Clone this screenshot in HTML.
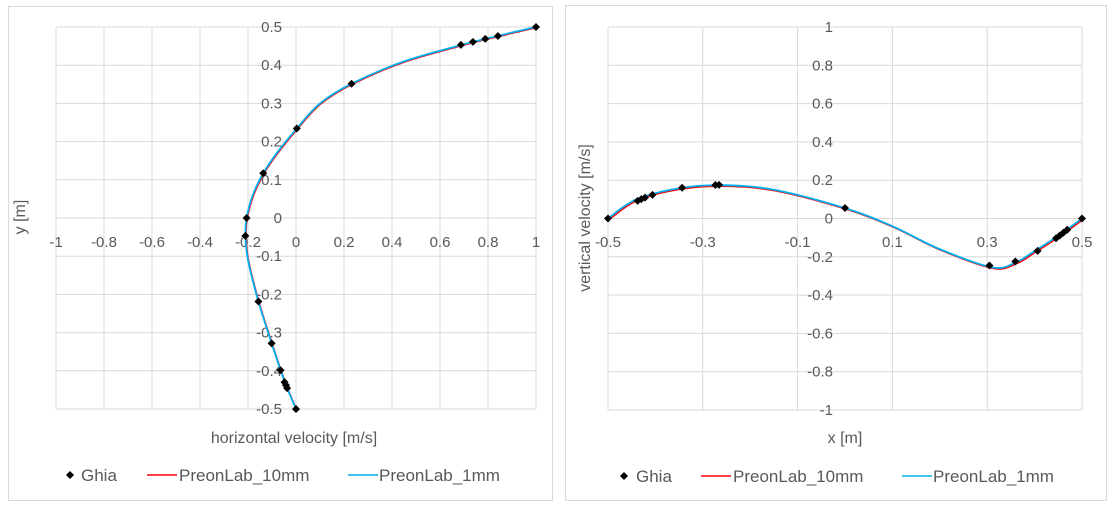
<!DOCTYPE html>
<html><head><meta charset="utf-8"><style>
body{margin:0;background:#fff;width:1114px;height:508px;overflow:hidden}
svg text{font-family:"Liberation Sans",sans-serif;fill:#595959}
</style></head><body>
<svg id="s" width="1114" height="508" xmlns="http://www.w3.org/2000/svg">
<rect x="8.5" y="6.5" width="544" height="494" fill="#fff" stroke="#d9d9d9"/>
<rect x="565.5" y="5.5" width="541" height="495" fill="#fff" stroke="#d9d9d9"/>
<g id="g"></g>
<text x="20" y="217" font-size="16" text-anchor="middle" transform="rotate(-90 20 217)" dy="5">y [m]</text>
<text x="294" y="443" font-size="16" text-anchor="middle">horizontal velocity [m/s]</text>
<text x="585" y="218" font-size="16" text-anchor="middle" transform="rotate(-90 585 218)" dy="5">vertical velocity [m/s]</text>
<text x="845" y="443" font-size="16" text-anchor="middle">x [m]</text>
<path d="M70 471 l4 4 -4 4 -4 -4z" fill="#000"/>
<text x="81" y="481" font-size="17">Ghia</text>
<line x1="147" y1="475" x2="177" y2="475" stroke="#ff0000" stroke-width="1.5"/>
<text x="179" y="481" font-size="17">PreonLab_10mm</text>
<line x1="348" y1="475" x2="378" y2="475" stroke="#00b0f0" stroke-width="1.5"/>
<text x="379" y="481" font-size="17">PreonLab_1mm</text>
<path d="M624 472 l4 4 -4 4 -4 -4z" fill="#000"/>
<text x="636" y="482" font-size="17">Ghia</text>
<line x1="701" y1="476" x2="731" y2="476" stroke="#ff0000" stroke-width="1.5"/>
<text x="733" y="482" font-size="17">PreonLab_10mm</text>
<line x1="902" y1="476" x2="932" y2="476" stroke="#00b0f0" stroke-width="1.5"/>
<text x="933" y="482" font-size="17">PreonLab_1mm</text>
</svg>
<script>
const NS="http://www.w3.org/2000/svg",g=document.getElementById('g');
function el(t,a,txt){const e=document.createElementNS(NS,t);for(const k in a)e.setAttribute(k,a[k]);if(txt!==undefined)e.textContent=txt;g.appendChild(e);return e;}
function fmt(v){v=Math.round(v*10)/10;return v===0?"0":String(v);}
const LX=u=>296+u*240, LY=y=>218-y*382;
for(let i=0;i<=10;i++){const x=LX(-1+i*0.2);el('line',{x1:x,y1:LY(.5),x2:x,y2:LY(-.5),stroke:'#d9d9d9'});}
for(let i=0;i<=10;i++){const y=LY(-.5+i*0.1);el('line',{x1:LX(-1),y1:y,x2:LX(1),y2:y,stroke:'#d9d9d9'});}
for(let i=0;i<=10;i++){const v=-1+i*0.2;el('text',{x:LX(v),y:247,'font-size':15,'text-anchor':'middle'},fmt(v));}
for(let i=0;i<=10;i++){const v=-.5+i*0.1;el('text',{x:282,y:LY(v)+5,'font-size':15,'text-anchor':'end'},fmt(v));}
const RX=x=>845+x*474, RY=v=>218.5-v*191.5;
for(let i=0;i<=5;i++){const x=RX(-.5+i*0.2);el('line',{x1:x,y1:RY(1),x2:x,y2:RY(-1),stroke:'#d9d9d9'});}
for(let i=0;i<=10;i++){const y=RY(-1+i*0.2);el('line',{x1:RX(-.5),y1:y,x2:RX(.5),y2:y,stroke:'#d9d9d9'});}
for(let i=0;i<=5;i++){const v=-.5+i*0.2;el('text',{x:RX(v),y:247,'font-size':15,'text-anchor':'middle'},fmt(v));}
for(let i=0;i<=10;i++){const v=-1+i*0.2;el('text',{x:833,y:RY(v)+5,'font-size':15,'text-anchor':'end'},fmt(v));}
const gu=[[1,1],[.9766,.84123],[.9688,.78871],[.9609,.73722],[.9531,.68717],[.8516,.23151],[.7344,.00332],[.6172,-.13641],[.5,-.20581],[.4531,-.2109],[.2813,-.15662],[.1719,-.1015],[.1016,-.06434],[.0703,-.04775],[.0625,-.04192],[.0547,-.03717],[0,0]];
const gv=[[1,0],[.9688,-.05906],[.9609,-.07391],[.9531,-.08864],[.9453,-.10313],[.9063,-.16914],[.8594,-.22445],[.8047,-.24533],[.5,.05454],[.2344,.17527],[.2266,.17507],[.1563,.16077],[.0938,.12317],[.0781,.1089],[.0703,.10091],[.0625,.09233],[0,0]];
function cr(pts){let d="M"+pts[0][0]+" "+pts[0][1];for(let i=0;i<pts.length-1;i++){const p0=pts[Math.max(0,i-1)],p1=pts[i],p2=pts[i+1],p3=pts[Math.min(pts.length-1,i+2)];
d+=` C${p1[0]+(p2[0]-p0[0])/6} ${p1[1]+(p2[1]-p0[1])/6} ${p2[0]-(p3[0]-p1[0])/6} ${p2[1]-(p3[1]-p1[1])/6} ${p2[0]} ${p2[1]}`;}return d;}
const lk=[[1,.5],[.84,.4766],[.69,.4531],[.45,.41],[.23151,.3516],[.1,.3],[.00332,.2344],[-.08,.17],[-.13641,.1172],[-.18,.06],[-.20581,0],[-.2109,-.0469],[-.2,-.11],[-.15662,-.2187],[-.1015,-.3281],[-.06434,-.3984],[-.03717,-.4453],[0,-.5]];
const lp=lk.map(p=>[LX(p[0]),LY(p[1])]);
el('path',{d:cr(lp.map(p=>[p[0]+0.6,p[1]+0.6])),fill:'none',stroke:'#ff0000','stroke-width':1.6});
el('path',{d:cr(lp),fill:'none',stroke:'#00b0f0','stroke-width':1.8});
const rk=[[-.5,0],[-.44,.1],[-.35,.158],[-.26,.174],[-.15,.15],[0,.054],[.1,-.04],[.2,-.16],[.31,-.255],[.36,-.23],[.4,-.17],[.45,-.09],[.5,0]];
const rp=rk.map(p=>[RX(p[0]),RY(p[1])]);
el('path',{d:cr(rp.map(p=>[p[0]+1,p[1]+1])),fill:'none',stroke:'#ff0000','stroke-width':1.6});
el('path',{d:cr(rp),fill:'none',stroke:'#00b0f0','stroke-width':1.8});
function dia(x,y){el('path',{d:`M${x} ${y-4} l4 4 -4 4 -4 -4z`,fill:'#000'});}
gu.forEach(p=>dia(LX(p[1]),LY(p[0]-.5)));
gv.forEach(p=>dia(RX(p[0]-.5),RY(p[1])));
</script>
</body></html>
